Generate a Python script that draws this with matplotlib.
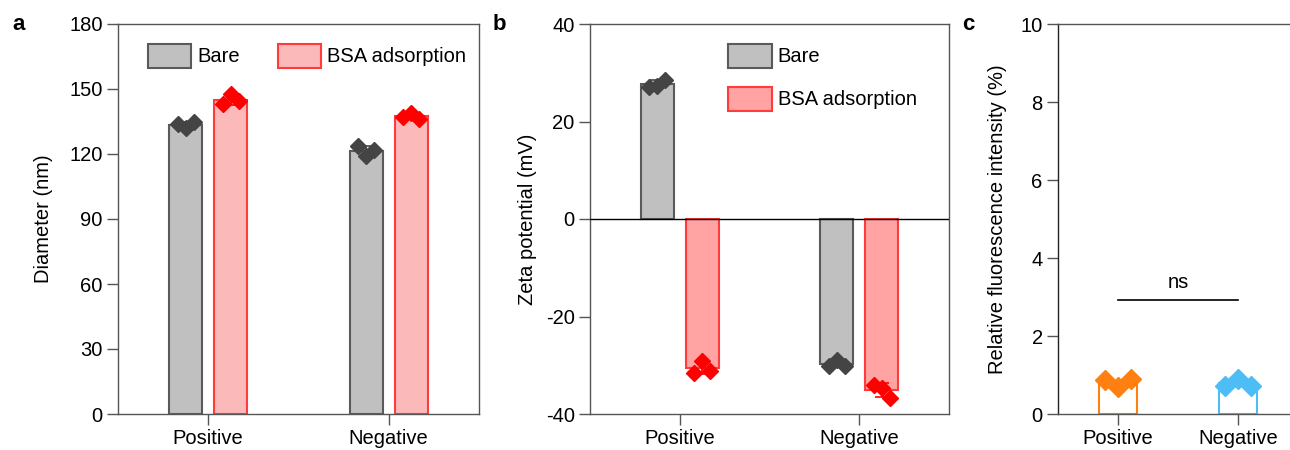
"""Bare vs BSA adsorption: diameter, zeta potential, relative fluorescence."""
import numpy as np
import matplotlib.pyplot as plt

plt.rcParams['font.family'] = ['Liberation Sans', 'DejaVu Sans']
plt.rcParams['font.size'] = 14.5
plt.rcParams['axes.unicode_minus'] = False

groups = ['Positive', 'Negative']

# panel a: diameter (nm), three replicates per bar
diam_bare = [[133.7, 131.9, 134.8], [123.8, 119.2, 121.8]]
diam_bsa = [[142.9, 147.5, 144.5], [137.2, 138.8, 136.2]]

# panel b: zeta potential (mV)
zeta_bare = [[27.1, 27.3, 28.6], [-30.1, -28.9, -30.1]]
zeta_bsa = [[-31.5, -29.1, -31.1], [-34.1, -34.6, -36.8]]

# panel c: relative fluorescence intensity (%)
fluo = [[0.87, 0.70, 0.89], [0.73, 0.90, 0.73]]
ns_height = 2.92

GRAY_FILL = '#c0c0c0'
GRAY_EDGE = '#5a5a5a'
GRAY_PT = '#444444'
RED_EDGE = '#ff3b3b'
RED_PT = '#ff0000'
SPINE = '#555555'

W, H = 1290, 450
fig = plt.figure(figsize=(W / 100, H / 100), dpi=100)


def add_ax(left, right, top=24, bottom=414):
    return fig.add_axes([left / W, (H - bottom) / H, (right - left) / W, (bottom - top) / H])


def style(ax):
    for s in ax.spines.values():
        s.set_color(SPINE)
        s.set_linewidth(1.0)
    ax.tick_params(direction='out', length=8, width=1, color=SPINE, pad=3)
    ax.set_xlim(-0.5, 1.5)
    ax.set_xticks(range(len(groups)))
    ax.set_xticklabels(groups)


def draw_bars(ax, data, offset, width, fill, edge, pt, label=None):
    x = np.arange(len(data)) + offset
    means = [np.mean(d) for d in data]
    sds = [np.std(d, ddof=1) for d in data]
    bars = ax.bar(x, means, width, color=fill, edgecolor=edge, linewidth=1.5,
                  label=label, zorder=2)
    ax.errorbar(x, means, yerr=sds, fmt='none', ecolor=pt, elinewidth=1.2,
                capsize=5, capthick=1.2, zorder=3)
    for xi, d in zip(x, data):
        ax.plot(xi + np.array([-0.045, 0, 0.045]), d, 'D', color=pt,
                markersize=8, ls='none', zorder=4)
    return bars


leg_kw = dict(loc='upper left', frameon=False, borderpad=0, handlelength=2.15,
              handleheight=1.45, handletextpad=0.3)

# ---- a ----
ax = add_ax(118, 479)
style(ax)
draw_bars(ax, diam_bare, -0.125, 0.183, GRAY_FILL, GRAY_EDGE, GRAY_PT, 'Bare')
draw_bars(ax, diam_bsa, 0.125, 0.183, '#fbb9b9', RED_EDGE, RED_PT, 'BSA adsorption')
ax.set_ylim(0, 180)
ax.set_yticks(np.arange(0, 181, 30))
ax.set_ylabel('Diameter (nm)', labelpad=12)
ax.legend(bbox_to_anchor=(0.055, 0.975), ncol=2, columnspacing=1.9, **leg_kw)
fig.text(12 / W, 1 - 24 / H, 'a', fontsize=16, fontweight='bold', va='center')

# ---- b ----
ax = add_ax(590, 949)
style(ax)
draw_bars(ax, zeta_bare, -0.125, 0.183, GRAY_FILL, GRAY_EDGE, GRAY_PT, 'Bare')
draw_bars(ax, zeta_bsa, 0.125, 0.183, '#ffa3a3', RED_EDGE, RED_PT, 'BSA adsorption')
ax.axhline(0, color='black', lw=1, zorder=5)
ax.set_ylim(-40, 40)
ax.set_yticks(np.arange(-40, 41, 20))
ax.set_ylabel('Zeta potential (mV)', labelpad=6)
ax.legend(bbox_to_anchor=(0.357, 0.975), labelspacing=0.95, **leg_kw)
fig.text(493 / W, 1 - 24 / H, 'b', fontsize=16, fontweight='bold', va='center')

# ---- c ----
ax = add_ax(1058, 1298)
style(ax)
ax.spines['left'].set_color('#222222')
for i, (d, col) in enumerate(zip(fluo, ['#ff8010', '#4dbdf5'])):
    ax.bar(i, np.mean(d), 0.317, color='white', edgecolor=col, linewidth=1.5, zorder=2)
    ax.plot(i + np.array([-0.108, 0, 0.108]), d, 'D', color=col, markersize=10,
            ls='none', zorder=4)
ax.plot([0, 1], [ns_height, ns_height], color='black', lw=1.2)
ax.text(0.5, ns_height + 0.22, 'ns', ha='center', va='bottom')
ax.set_ylim(0, 10)
ax.set_yticks(np.arange(0, 11, 2))
ax.set_ylabel('Relative fluorescence intensity (%)', labelpad=10)
fig.text(962 / W, 1 - 24 / H, 'c', fontsize=16, fontweight='bold', va='center')

fig.savefig('out.png', dpi=100)
